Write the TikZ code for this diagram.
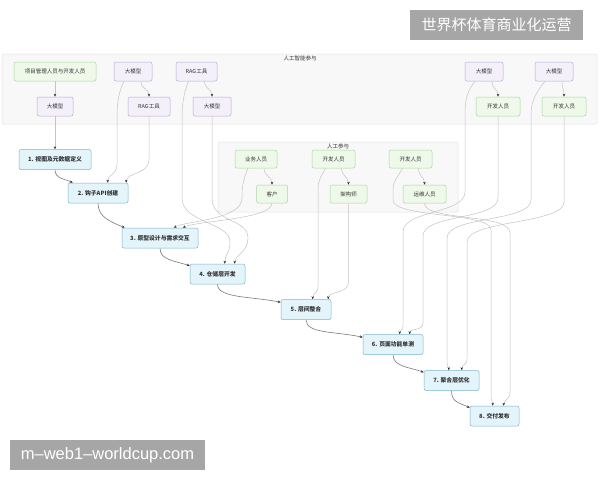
\documentclass[tikz,border=0pt]{standalone}
\usepackage{fontspec}
\setmainfont{Noto Sans CJK SC}
\newfontfamily\latinf{Liberation Sans}
\usetikzlibrary{arrows.meta}
\pgfdeclarelayer{bg}
\pgfdeclarelayer{edges}
\pgfsetlayers{bg,edges,main}
\definecolor{gfill}{HTML}{EEF9EA}
\definecolor{gdraw}{HTML}{A6D8A0}
\definecolor{pfill}{HTML}{F4F0FA}
\definecolor{pdraw}{HTML}{B8A8D6}
\definecolor{sfill}{HTML}{E3F4FB}
\definecolor{sdraw}{HTML}{7DB5CA}
\definecolor{cfill}{HTML}{F8F8F8}
\definecolor{cdraw}{HTML}{E4E4E4}
\definecolor{egray}{HTML}{C4C4C4}
\definecolor{cgray}{HTML}{7A7A7A}
\definecolor{wm}{HTML}{A6A6A6}
\tikzset{
  base/.style={rounded corners=2pt, minimum height=19pt, inner sep=1pt, line width=0.5pt,
    font=\fontsize{5.5}{6}\selectfont, text=black!80},
  grn/.style={base, fill=gfill, draw=gdraw},
  pur/.style={base, fill=pfill, draw=pdraw},
  stp/.style={base, fill=sfill, draw=sdraw, minimum height=20pt,
    font=\fontsize{5.8}{6}\selectfont\bfseries},
  clus/.style={fill=cfill, draw=cdraw, line width=0.5pt, rounded corners=2pt},
  clab/.style={font=\fontsize{5.5}{6}\selectfont, text=black!80, inner sep=0pt},
  ed/.style={draw=egray, line width=0.5pt, -{Stealth[length=3pt,width=2.4pt,color=black!85]}},
  ch/.style={draw=cgray, line width=0.6pt, -{Stealth[length=3pt,width=2.4pt,color=black!85]}},
  wmark/.style={fill=wm, text=white, inner sep=0pt}
}
\begin{document}
\begin{tikzpicture}[x=1pt,y=-1pt]
\useasboundingbox (0,0) rectangle (600,480);
\begin{pgfonlayer}{bg}
\fill[white] (0,0) rectangle (600,480);
\draw[clus] (2,54) rectangle (597,124);
\draw[clus] (218,142) rectangle (458,212);
\end{pgfonlayer}
\node[clab] (lab1) at (300,58) {人工智能参与};
\node[clab] (lab2) at (338,146) {人工参与};
% top cluster
\node[grn, minimum width=82pt] (p) at (55,71.5) {项目管理人员与开发人员};
\node[pur, minimum width=36pt] (m1) at (55,106.5) {大模型};
\node[pur, minimum width=38pt] (A1) at (133,71.5) {大模型};
\node[pur, minimum width=42pt] (r1) at (149,106.5) {RAG工具};
\node[pur, minimum width=41pt] (B1) at (196.5,71.5) {RAG工具};
\node[pur, minimum width=38pt] (m2) at (212,106.5) {大模型};
\node[pur, minimum width=38pt] (C1) at (484,71.5) {大模型};
\node[grn, minimum width=44pt] (d1) at (498,106.5) {开发人员};
\node[pur, minimum width=38pt] (D1) at (554,71.5) {大模型};
\node[grn, minimum width=44pt] (d2) at (564,106.5) {开发人员};
% inner cluster
\node[grn, minimum width=42pt, minimum height=18pt] (biz) at (256,159) {业务人员};
\node[grn, minimum width=31pt, minimum height=18pt] (cust) at (272,194) {客户};
\node[grn, minimum width=43pt, minimum height=18pt] (dev1) at (333.5,159) {开发人员};
\node[grn, minimum width=37pt, minimum height=18pt] (arch) at (348.5,194) {架构师};
\node[grn, minimum width=43pt, minimum height=18pt] (dev2) at (410.5,159) {开发人员};
\node[grn, minimum width=43pt, minimum height=18pt] (ops) at (424.5,194) {运维人员};
% steps
\node[stp, minimum width=72pt] (s1) at (55,159.5) {1. 视图及元数据定义};
\node[stp, minimum width=60pt] (s2) at (98,193) {2. 钩子API创建};
\node[stp, minimum width=76pt] (s3) at (160,238) {3. 原型设计与需求交互};
\node[stp, minimum width=55pt] (s4) at (217.5,274) {4. 仓储层开发};
\node[stp, minimum width=50pt] (s5) at (306,309.5) {5. 层间整合};
\node[stp, minimum width=60pt] (s6) at (393,344.5) {6. 页面功能单测};
\node[stp, minimum width=55pt] (s7) at (451.5,380.5) {7. 聚合层优化};
\node[stp, minimum width=49pt] (s8) at (494.5,416) {8. 交付发布};
% watermarks
\node[wmark, minimum width=173pt, minimum height=30pt, font=\fontsize{15}{15}\selectfont] (w1) at (496.5,25) {世界杯体育商业化运营};
\node[wmark, minimum width=195pt, minimum height=30pt, font=\latinf\fontsize{16.5}{16.5}\selectfont] (w2) at (107.5,455) {m–web1–worldcup.com};
\begin{pgfonlayer}{edges}
% short edges
\draw[ed] (p) -- (m1);
\draw[ed] ([xshift=8pt]A1.south) .. controls +(0,8) and +(0,-8) .. (r1.north);
\draw[ed] ([xshift=8pt]B1.south) .. controls +(0,8) and +(0,-8) .. (m2.north);
\draw[ed] ([xshift=8pt]C1.south) .. controls +(0,8) and +(0,-8) .. (d1.north);
\draw[ed] ([xshift=8pt]D1.south) .. controls +(0,8) and +(0,-8) .. (d2.north);
\draw[ed] ([xshift=8pt]biz.south) .. controls +(0,8) and +(0,-8) .. (cust.north);
\draw[ed] ([xshift=8pt]dev1.south) .. controls +(0,8) and +(0,-8) .. (arch.north);
\draw[ed] ([xshift=8pt]dev2.south) .. controls +(0,8) and +(0,-8) .. (ops.north);
% into step 1, 2
\draw[ed] (m1) -- (s1);
\draw[ed] ([xshift=-9pt]A1.south) .. controls +(-6,12) and +(0,-15) .. (117,120) -- (117,164) .. controls +(0,12) and +(0,-9) .. ([xshift=40pt]s2.north west);
\draw[ed] (r1.south) -- (149,160) .. controls +(0,14) and +(0,-10) .. ([xshift=-2pt]s2.north east);
% into step 3
\draw[ed] ([xshift=-8pt]biz.south) .. controls +(-5,12) and +(0,-12) .. (242,198) .. controls +(0,22) and +(12,-7) .. ([xshift=52pt]s3.north west);
\draw[ed] (cust.south) .. controls +(0,16) and +(14,-7) .. ([xshift=61pt]s3.north west);
% into step 4
\draw[ed] ([xshift=-8pt]B1.south) .. controls +(-5,12) and +(0,-15) .. (182,120) -- (182,198) .. controls +(0,25) and +(0,-20) .. (230,242) .. controls +(0,10) and +(0,-8) .. ([xshift=35pt]s4.north west);
\draw[ed] (m2.south) -- (212,198) .. controls +(0,25) and +(0,-20) .. (248,238) .. controls +(0,14) and +(0,-8) .. ([xshift=45pt]s4.north west);
% into step 5
\draw[ed] ([xshift=-8pt]dev1.south) .. controls +(-5,10) and +(0,-10) .. (318,190) -- (318,286) .. controls +(0,8) and +(0,-7) .. ([xshift=32pt]s5.north west);
\draw[ed] (arch.south) -- (348.5,282) .. controls +(0,12) and +(0,-8) .. ([xshift=-3pt]s5.north east);
% into step 6
\draw[ed] ([xshift=-9pt]C1.south) .. controls +(-8,10) and +(0,-15) .. (465,115) -- (465,192) .. controls +(0,22) and +(0,-22) .. (403,232) -- (403,326) .. controls +(0,5) and +(0,-5) .. ([xshift=37pt]s6.north west);
\draw[ed] (d1.south) -- (498,198) .. controls +(0,22) and +(0,-22) .. (423,236) -- (423,323) .. controls +(0,8) and +(0,-6) .. ([xshift=47pt]s6.north west);
% into step 7
\draw[ed] ([xshift=-9pt]D1.south) .. controls +(-8,10) and +(0,-15) .. (531,115) -- (531,200) .. controls +(0,22) and +(0,-22) .. (447,238) -- (447,362) .. controls +(0,4) and +(0,-4) .. ([xshift=25pt]s7.north west);
\draw[ed] (d2.south) -- (564,202) .. controls +(0,22) and +(0,-22) .. (467,242) -- (467,358) .. controls +(0,8) and +(0,-6) .. ([xshift=38pt]s7.north west);
% into step 8
\draw[ed] ([xshift=-8pt]dev2.south) .. controls +(-5,10) and +(0,-10) .. (393,190) -- (393,200) .. controls +(0,18) and +(0,-18) .. (491,230) -- (491,396) .. controls +(0,4) and +(0,-4) .. ([xshift=23pt]s8.north west);
\draw[ed] (ops.south) .. controls +(0,18) and +(0,-20) .. (510,233) -- (510,392) .. controls +(0,8) and +(0,-6) .. ([xshift=34pt]s8.north west);
% chain
\draw[ch] (s1.south) .. controls +(0,9) and +(-8,-4) .. ([xshift=5pt]s2.north west);
\draw[ch] (s2.south) .. controls +(0,14) and +(-14,-6) .. ([xshift=3pt]s3.north west);
\draw[ch] (s3.south) .. controls +(0,12) and +(-15,-5) .. ([yshift=-2pt]s4.north west);
\draw[ch] (s4.south) .. controls +(0,14) and +(-30,-6) .. ([yshift=-3pt]s5.north west);
\draw[ch] (s5.south) .. controls +(0,14) and +(-28,-6) .. ([yshift=-3pt]s6.north west);
\draw[ch] (s6.south) .. controls +(0,12) and +(-14,-5) .. ([yshift=-2pt]s7.north west);
\draw[ch] (s7.south) .. controls +(0,12) and +(-10,-5) .. ([yshift=-2pt]s8.north west);
\end{pgfonlayer}
\end{tikzpicture}
\end{document}
